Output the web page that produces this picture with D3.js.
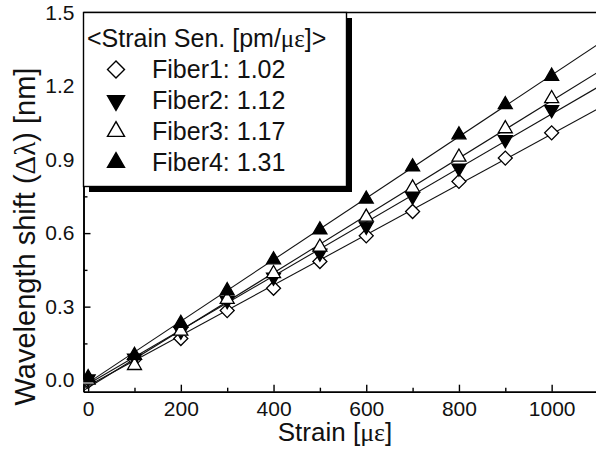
<!DOCTYPE html>
<html><head><meta charset="utf-8">
<script src="https://cdn.jsdelivr.net/npm/d3@7"></script>
<style>
body{margin:0;background:#fff;}
svg{display:block;font-family:"Liberation Sans",Arial,sans-serif;}
</style></head>
<body><svg id="chart" width="596" height="454"></svg>
<script>
// ---- data ----
const strain = [0,100,200,300,400,500,600,700,800,900,1000];
const fiber1 = [-0.005,0.085,0.170,0.284,0.375,0.484,0.589,0.688,0.811,0.906,1.009];
const fiber2 = [0.005,0.090,0.200,0.325,0.420,0.518,0.628,0.750,0.865,0.981,1.104];
const fiber3 = [0.000,0.060,0.200,0.330,0.435,0.543,0.665,0.784,0.910,1.026,1.149];
const fiber4 = [0.010,0.101,0.232,0.365,0.491,0.613,0.739,0.870,1.001,1.124,1.240];
const seriesNames = ["Fiber1: 1.02","Fiber2: 1.12","Fiber3: 1.17","Fiber4: 1.31"];
const seriesShapes = ["diamond","down","up","up"];
const seriesFilled = [false,true,false,true];
const xMajor = [0,200,400,600,800,1000];
const xMinor = [100,300,500,700,900];
const yMajor = [0.0,0.3,0.6,0.9,1.2,1.5];
const yMinor = [0.15,0.45,0.75,1.05,1.35];

const svg = d3.select("#chart");
const L = 83.5, T = 12.5, B = 391.7, R = 598;
const x = d3.scaleLinear().domain([-10,1100]).range([L,R]);
const y = d3.scaleLinear().domain([-0.047,1.5]).range([B,T]);

svg.append("defs").append("clipPath").attr("id","clip")
  .append("rect").attr("x",L).attr("y",T).attr("width",R-L).attr("height",B-T);

// frame (top border)
svg.append("line").attr("x1",L).attr("x2",R).attr("y1",T).attr("y2",T)
  .attr("stroke","#000").attr("stroke-width",1.4);

// axes
const gx = svg.append("g").attr("transform",`translate(0,${B})`)
  .call(d3.axisBottom(x).tickValues(xMajor).tickSizeInner(-7).tickSizeOuter(0).tickPadding(9).tickFormat(d3.format("d")));
const gxm = svg.append("g").attr("transform",`translate(0,${B})`)
  .call(d3.axisBottom(x).tickValues(xMinor).tickSizeInner(-4).tickSizeOuter(0).tickFormat(""));
const gy = svg.append("g").attr("transform",`translate(${L},0)`)
  .call(d3.axisLeft(y).tickValues(yMajor).tickSizeInner(-7).tickSizeOuter(0).tickPadding(9).tickFormat(d3.format(".1f")));
const gym = svg.append("g").attr("transform",`translate(${L},0)`)
  .call(d3.axisLeft(y).tickValues(yMinor).tickSizeInner(-4).tickSizeOuter(0).tickFormat(""));
[gx,gxm,gy,gym].forEach(g=>{
  g.select(".domain").attr("stroke","#000").attr("stroke-width",1.6);
  g.selectAll(".tick line").attr("stroke","#000").attr("stroke-width",1.4);
  g.selectAll(".tick text").attr("font-size",21).attr("fill","#111")
   .attr("font-family","'Liberation Sans',Arial,sans-serif");
});

// axis titles
const xt = svg.append("text").attr("x",335).attr("y",441).attr("text-anchor","middle")
  .attr("font-size",26).attr("fill","#111");
xt.append("tspan").text("Strain [");
xt.append("tspan").attr("font-family","'Liberation Serif',serif").text("με");
xt.append("tspan").text("]");
const yt = svg.append("text").attr("transform","translate(35,236.5) rotate(-90)").attr("text-anchor","middle")
  .attr("font-size",29).attr("fill","#111");
yt.append("tspan").text("Wavelength shift (");
yt.append("tspan").attr("font-family","'Liberation Serif',serif").text("Δλ");
yt.append("tspan").text(") [nm]");

// data & fits
const allSeries = [fiber1,fiber2,fiber3,fiber4];
function fit(vals){
  const mx = d3.mean(strain), my = d3.mean(vals);
  const sxy = d3.sum(strain,(s,i)=>(s-mx)*(vals[i]-my));
  const sxx = d3.sum(strain,s=>(s-mx)*(s-mx));
  const b = sxy/sxx; return {a: my-b*mx, b};
}
const plot = svg.append("g").attr("clip-path","url(#clip)");
const lineGen = d3.line().x(d=>x(d[0])).y(d=>y(d[1]));
allSeries.forEach(vals=>{
  const f = fit(vals);
  const ends = x.domain().map(s=>[s, f.a+f.b*s]);
  plot.append("path").attr("d",lineGen(ends)).attr("fill","none")
    .attr("stroke","#111").attr("stroke-width",1.1);
});
function symPath(shape,w){
  if(shape==="diamond"){ const s=w/Math.SQRT2; return d3.symbol(d3.symbolSquare, s*s)(); }
  return d3.symbol(d3.symbolTriangle, Math.sqrt(3)/4*w*w)();
}
function symTransform(shape,cx,cy){
  if(shape==="diamond") return `translate(${cx},${cy}) rotate(45)`;
  if(shape==="down") return `translate(${cx},${cy}) rotate(180)`;
  return `translate(${cx},${cy})`;
}
allSeries.forEach((vals,k)=>{
  const shape = seriesShapes[k], filled = seriesFilled[k];
  plot.append("g").selectAll("path").data(strain).join("path")
    .attr("d",symPath(shape,14))
    .attr("transform",(s,i)=>symTransform(shape,x(s),y(vals[i])))
    .attr("fill",filled?"#000":"#fff").attr("stroke","#000").attr("stroke-width",1.3);
});

// legend
const lg = svg.append("g");
lg.append("rect").attr("x",L+5.5).attr("y",T+5.5).attr("width",263).attr("height",174).attr("fill","#000");
lg.append("rect").attr("x",L).attr("y",T).attr("width",263).attr("height",174)
  .attr("fill","#fff").attr("stroke","#000").attr("stroke-width",1.4);
const ht = lg.append("text").attr("x",87).attr("y",47).attr("font-size",25).attr("fill","#111");
ht.append("tspan").text("<Strain Sen. [pm/");
ht.append("tspan").attr("font-family","'Liberation Serif',serif").text("με");
ht.append("tspan").text("]>");
seriesNames.forEach((name,k)=>{
  const by = 77.5 + k*31;
  lg.append("path").attr("d",symPath(seriesShapes[k],17))
    .attr("transform",symTransform(seriesShapes[k],116,by-8))
    .attr("fill",seriesFilled[k]?"#000":"#fff").attr("stroke","#000").attr("stroke-width",1.4);
  lg.append("text").attr("x",152).attr("y",by).attr("font-size",25).attr("fill","#111").text(name);
});
</script></body></html>
